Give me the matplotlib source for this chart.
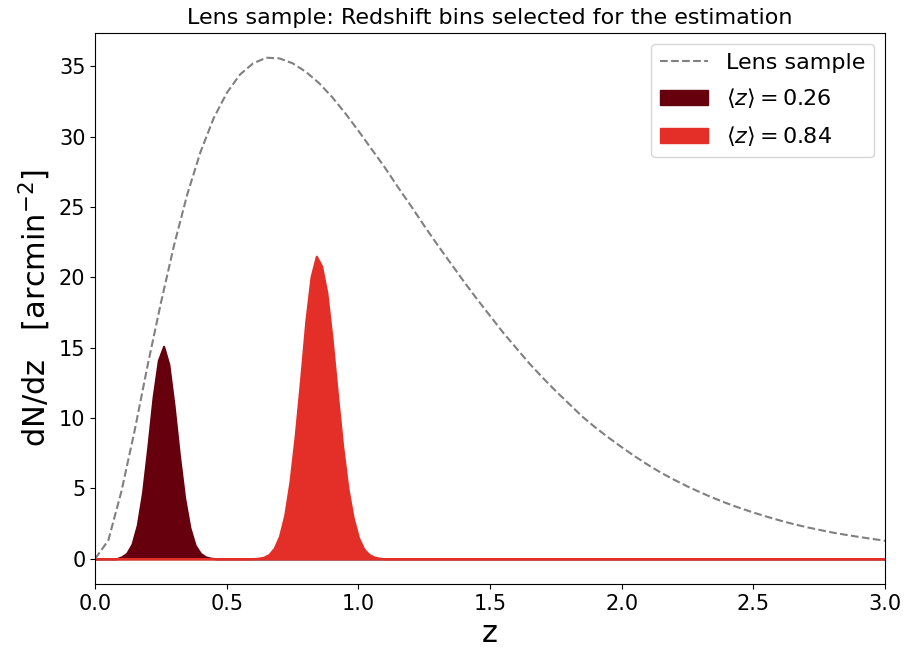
import numpy as np
import matplotlib
matplotlib.use("Agg")
import matplotlib.pyplot as plt
from matplotlib.lines import Line2D
from matplotlib.patches import Patch

z_lens = np.round(np.arange(0, 3.001, 0.05), 2)
dndz_lens = [0.0, 1.3, 4.8, 9.1, 13.8, 18.2, 22.3, 25.9, 28.9, 31.3,
             33.1, 34.4, 35.2, 35.6, 35.55, 35.2, 34.6, 33.8, 32.8, 31.65,
             30.4, 29.1, 27.8, 26.4, 25.05, 23.65, 22.3, 21.0, 19.7, 18.45,
             17.25, 16.05, 14.95, 13.85, 12.85, 11.9, 11.0, 10.1, 9.32, 8.6,
             7.92, 7.27, 6.66, 6.1, 5.6, 5.13, 4.7, 4.3, 3.93, 3.59,
             3.28, 2.99, 2.72, 2.47, 2.25, 2.05, 1.86, 1.7, 1.55, 1.41,
             1.28]

# the two selected bins, sampled every 0.02
z_bin1 = np.round(np.arange(0.10, 0.441, 0.02), 2)
dndz_bin1 = [0.13, 0.39, 1.04, 2.39, 4.7, 7.94, 11.48, 14.1, 15.1,
             13.8, 10.85, 7.35, 4.3, 2.2, 0.95, 0.38, 0.13, 0.04]

z_bin2 = np.round(np.arange(0.60, 1.081, 0.02), 2)
dndz_bin2 = [0.01, 0.04, 0.11, 0.3, 0.75, 1.6, 3.1, 5.5, 8.8, 12.7,
             16.9, 20.05, 21.5, 20.8, 18.9, 15.6, 11.7, 8.0, 5.0, 2.9,
             1.5, 0.7, 0.3, 0.12, 0.04]

labels = ["Lens sample", r"$\langle z \rangle = 0.26$", r"$\langle z \rangle = 0.84$"]
col_bin1 = "#67000d"
col_bin2 = "#e32f27"

# full z grid, zero outside the bins
z_grid = np.round(np.linspace(0, 3, 151), 2)
def on_grid(zs, vals):
    out = np.zeros(len(z_grid))
    for zz, v in zip(zs, vals):
        out[int(round(zz / 0.02))] = v
    return out

fig = plt.figure(figsize=(9.06, 6.53), dpi=100)
ax = fig.add_axes([0.105, 0.106, 0.872, 0.844])

ax.plot(z_lens, dndz_lens, ls="--", color="gray", lw=1.5)
ax.fill_between(z_grid, on_grid(z_bin1, dndz_bin1), color=col_bin1, lw=1.5)
ax.fill_between(z_grid, on_grid(z_bin2, dndz_bin2), color=col_bin2, lw=1.5)

ax.set_xlim(0, 3)
ax.tick_params(labelsize=15)
ax.set_xlabel("z", fontsize=22)
ax.set_ylabel(r"dN/dz   [arcmin$^{-2}$]", fontsize=22)
ax.set_title("Lens sample: Redshift bins selected for the estimation", fontsize=16)

handles = [Line2D([], [], ls="--", color="gray", lw=1.5),
           Patch(color=col_bin1), Patch(color=col_bin2)]
ax.legend(handles, labels, loc="upper right", fontsize=16,
          labelspacing=0.62, handlelength=2.15)

fig.savefig("out.png", dpi=100)
